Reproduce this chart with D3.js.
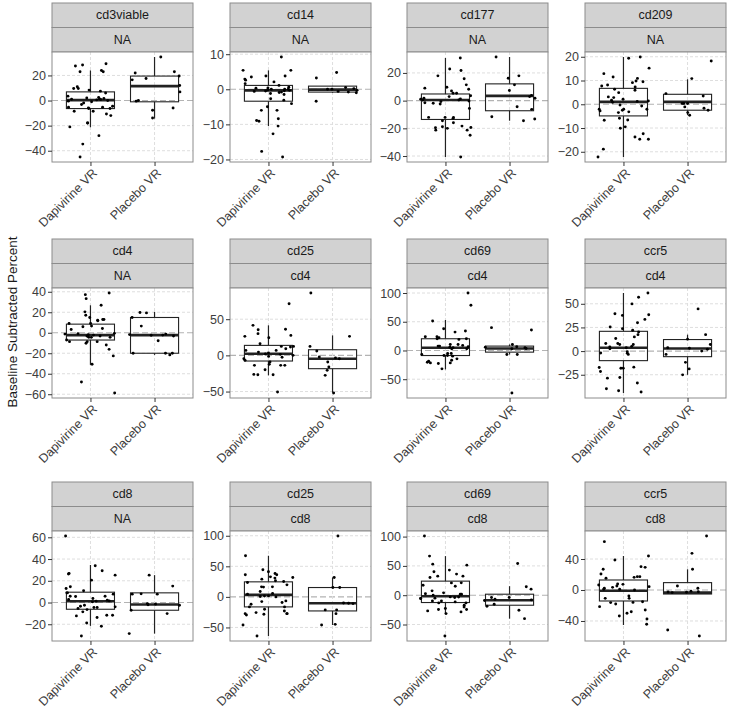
<!DOCTYPE html>
<html><head><meta charset="utf-8">
<script src="https://cdn.jsdelivr.net/npm/d3@7"></script>
<style>body{margin:0;background:#fff}svg{display:block}</style>
</head><body><svg id="c" width="729" height="710"></svg>
<script>
// ---------- data ----------
const groups = ["Dapivirine VR", "Placebo VR"];
const markers = ["cd3viable","cd14","cd177","cd209","cd4","cd25","cd69","ccr5","cd8","cd25","cd69","ccr5"];
const parents = ["NA","NA","NA","NA","NA","cd4","cd4","cd4","NA","cd8","cd8","cd8"];
const yTicks = [
  [-40,-20,0,20], [-20,-10,0,10], [-40,-20,0,20], [-20,-10,0,10,20],
  [-60,-40,-20,0,20,40], [-50,0,50], [-50,0,50,100], [-25,0,25,50],
  [-20,0,20,40,60], [-50,0,50,100], [-50,0,50,100], [-40,0,40]
];
// box stats: [q1, median, q3, lower whisker, upper whisker]
const boxDapivirine = [
  [-6.4,0.3,6.9,-21.3,24], [-3.4,-0.3,1.1,-10.5,5.4], [-13.6,0.5,4.8,-40.7,30.8], [-4.9,1.0,6.7,-22.2,19.9],
  [-7.1,-2.3,8.4,-31.3,26.8], [-7.8,2.3,13.8,-27.6,41.5], [-8.8,4.7,20.4,-33,53], [-10.1,3.5,20.9,-44.3,61.4],
  [-6.2,1.2,9.5,-21.5,34.5], [-16.4,3.3,24.6,-64,67.3], [-12.5,-1.7,24,-32.5,66.7], [-14.2,-0.9,12.9,-45.2,43.9]
];
const boxPlacebo = [
  [-1,11.5,19.5,-14.4,34.7], [-0.8,-0.1,0.9,-1.0,1.0], [-7.3,3.4,12.1,-14.5,31.5], [-2.5,1.0,4.2,-4.6,10.5],
  [-20,-2.3,14.9,-21.6,20.4], [-18.4,-4.6,7.8,-51.6,27.6], [-2.9,3.5,7.6,-7,10.5], [-5.9,2.8,12.2,-25.1,17.4],
  [-7.1,-1.8,8.9,-28.6,25.2], [-23,-10.4,15.3,-46,31.7], [-17.1,-8.6,1.7,-40,15.4], [-5.2,-3.4,9.5,-5.2,26.7]
];
// individual observations
const dap_cd3viable = [24,27.5,23,28.3,29.3,23,11,9.6,9.6,8.3,7.5,6,3.5,2,1.6,1.3,0.8,-0.5,0,-4.5,-3.2,-5.3,-6.4,-5.3,-6.4,-5.9,-8.5,-8.5,-10.7,-12,-17.9,-17.9,-21,-28,-34.7,-45,0.5,-1,2.5,-2,1];
const pla_cd3viable = [23,22,34.7,17.6,16.5,19.5,6.9,-5.9,-13.9,-7.7,0,-0.5,12];
const dap_cd14 = [9.2,5.4,3.5,5.4,3.8,3.8,2.6,2.9,2.1,1.6,1.1,-0.6,0,-0.8,-0.3,0,0,-2.7,-3.1,-4.1,-6,-6,-5,-8.4,-8.9,-9.1,-10.5,-12.7,-17.7,-19.3,-0.5,0.4,-1.2,-0.2,0.6,-1.5,-0.9,0.3,-0.4];
const pla_cd14 = [4.8,3.2,-3.4,0,-0.6,0.2,-0.3,0,-1.0,0.5,-0.8];
const dap_cd177 = [30.8,21.8,22.8,9.7,9,17.9,15.8,11.4,8.2,7,5.3,5.3,2.9,1.7,0.5,-1.5,-0.7,1,0.5,-5.6,-2.4,-1.9,-12.1,-12.8,-12.1,-12.1,-18.4,-19.4,-21.3,-16,-14.5,-20,-25,-19.6,-18.9,-21.3,-40.7,3.5,-0.3,1.2];
const pla_cd177 = [31.5,16.2,17.9,11.4,7.3,2.9,1.7,-6.3,-4.4,-11.6,-14.5,-13.3,3.8];
const dap_cd209 = [19.9,19.4,15.2,12.9,9.8,9.5,9.1,10.9,11.5,8.1,7.3,7.7,6.3,4.9,3.1,2.8,1.7,2.1,5.9,1.4,-0.3,-0.7,-2.1,-3.2,-2.8,-2.1,-2.1,-3.5,-2.5,-9.5,-10.1,-6.6,-5.9,-6.7,-14.7,-14.7,-12.4,-13.8,-18.9,-22.2,0.8,1.2];
const pla_cd209 = [18.2,10.8,4.5,3.5,-3.5,-2.5,-4.6,0.3,0.3,0.3,-1.7,-1.1];
const dap_cd4 = [38.8,37.2,33.3,26.8,20.4,17.1,14.9,12.3,11.6,12.9,12.9,9.0,9.0,4.2,5.8,6.5,3.2,-0.6,-3.2,-1.3,-4.5,-3.2,-4.5,-2.3,-3.2,-4.5,-8.7,-12,-7.1,-10.3,-8.7,-8.7,-16.2,-22.6,-30.7,-48.1,-58.8,-2.0,-1.0];
const pla_cd4 = [19.7,19.4,14.9,6.5,-7.8,-2.3,-1.3,-1.8,-3.2,-2.5,-20,-20,-21.6,-20];
const dap_cd25_cd4 = [71.4,41.5,36,35.5,26.3,27.6,30,24.4,12.4,16.1,12.4,11.5,9.2,6.9,3.2,1.4,0,2.0,6.9,-4.6,-1.4,-6.9,-9.2,-12.4,-13.8,-13.8,-13.8,-26.3,-26.7,-26.7,-19.8,-50.7,4.5,-2.5];
const pla_cd25_cd4 = [86.2,26.3,12.4,6,-9.2,-16.1,-20.7,-27.6,-52,-3.5,-2.3,-4.6];
const dap_cd69_cd4 = [100,78.8,51.3,33.8,32,37.9,23.9,22.2,23.9,20.4,19.3,7.6,10.5,7.6,4.7,6.4,8.8,2.9,-5.3,-7,-8.8,-9.9,-5.3,-8.8,-21.6,-21.6,-22.8,-16.9,-20.4,-18.7,-32,-14.6,10.5,5.5,3.0,20.4];
const pla_cd69_cd4 = [39.7,35.6,10.5,6.4,-7,-7,4.7,2.9,3.5,-74,5.5];
const dap_ccr5_cd4 = [61.4,56.9,49.9,37.7,39.4,38.4,33.5,25.5,22,23.7,30,17.4,13.3,15,20.2,8,7,8,-2.4,-2.0,-0.7,4.5,3.5,7,-3.5,-18.1,-18.1,-17.4,-17.0,-21.6,-27.9,-33.8,-28.6,-41.9,-39.8,-43.2,2.5,5.0];
const pla_ccr5_cd4 = [44.6,17.4,12.6,7,-3.5,-18.8,-25.1,-11.9,3.0,0.0,3.5,2.0];
const dap_cd8 = [61.2,33.8,26.8,26.2,25.2,20.6,29.2,14.5,12.9,8.9,5.8,5.5,5.8,8.9,7.7,10.8,3.7,1.5,0.6,2.8,1.2,2.2,-4.6,-2.5,-4,-3.4,-4.6,-6.5,-5.5,-11.7,-18.8,-11.7,-13.8,-12.3,-21.8,-8.6,-30.8];
const pla_cd8 = [25.2,15.1,7.7,7.7,8.0,-1.0,-1.5,-2.5,-2.0,-7.1,-10.2,-28.6];
const dap_cd25_cd8 = [67.3,44.3,41,36.1,38.3,36.1,32.8,31.7,29,30.7,25.2,26.3,19.7,16.4,23.5,16.4,16.0,8.8,1.6,4.4,0,1.5,5.5,0.5,-7.7,-12,-9.3,-6.6,-16.4,-23,-20.2,-27.4,-29.6,-27.4,-25.7,-27.4,-28.5,-16.4,-46,-64];
const pla_cd25_cd8 = [99.6,31.7,15.3,15.3,-27.4,-46,-44.9,-10.0,-11.0,-21.3,-21.3,-10.5];
const dap_cd69_cd8 = [101,66.7,51.3,53,40,42.8,32.5,32.5,36,30.2,21.1,17.1,21.0,15.4,7.4,1.7,0,1.5,4,2.5,-4,-5.7,-2.9,-5.0,-3.0,-5.5,-13.1,-9.7,-13.1,-11.4,-10.0,-24.5,-31.4,-17.1,-28.5,-24.5,-22.8,-20,-26.8,-69.6];
const pla_cd69_cd8 = [54.2,14.3,10.3,-4,-4,-15.4,-18.8,-25.7,-40,-8.0,-9.0,-7.0];
const dap_ccr5_cd8 = [62.4,43.9,38.7,30.1,29.2,26.7,15.1,16.3,20.6,17.2,17.2,7.3,5.2,6.5,7.7,4.3,0.9,3.4,1.0,2.2,0,-10.8,-7.7,-16.3,-10.8,-15.1,-21.5,-28,-25.8,-30.1,-33.5,-37.4,-44.3,-16.0,-18.1];
const pla_ccr5_cd8 = [69.7,47.3,26.7,5.2,2.2,-2.2,-2.5,-3.4,-3.0,-59.4,-51.6,-1.5];

const dapivirinePoints = [dap_cd3viable,dap_cd14,dap_cd177,dap_cd209,dap_cd4,dap_cd25_cd4,dap_cd69_cd4,dap_ccr5_cd4,dap_cd8,dap_cd25_cd8,dap_cd69_cd8,dap_ccr5_cd8];
const placeboPoints = [pla_cd3viable,pla_cd14,pla_cd177,pla_cd209,pla_cd4,pla_cd25_cd4,pla_cd69_cd4,pla_ccr5_cd4,pla_cd8,pla_cd25_cd8,pla_cd69_cd8,pla_ccr5_cd8];

// ---------- layout ----------
const panelLeft = [52, 230, 407, 585];
const stripTop = [3, 239, 482];
const panelW = 141, panelH = 110, stripH = 24.5;
const FONT = "'Liberation Sans', Arial, sans-serif";

const svg = d3.select("#c");
svg.append("rect").attr("width",729).attr("height",710).attr("fill","#fff");

// deterministic jitter generator (horizontal scatter only)
function lcg(seed){ let s = seed >>> 0; return () => { s = (Math.imul(s,1664525) + 1013904223) >>> 0; return s / 4294967296; }; }

markers.forEach((m, i) => {
  const col = i % 4, row = Math.floor(i / 4);
  const x0 = panelLeft[col], sTop = stripTop[row];
  const pTop = sTop + 2*stripH, pBot = pTop + panelH;
  const g = svg.append("g");

  // strips
  [m, parents[i]].forEach((lab, k) => {
    g.append("rect").attr("x", x0).attr("y", sTop + k*stripH).attr("width", panelW).attr("height", stripH)
      .attr("fill", "#d2d2d2").attr("stroke", "#8c8c8c").attr("stroke-width", 1);
    g.append("text").attr("x", x0 + panelW/2).attr("y", sTop + k*stripH + stripH/2)
      .attr("text-anchor","middle").attr("dominant-baseline","central")
      .attr("font-family", FONT).attr("font-size", 12.5).attr("fill", "#1a1a1a").text(lab);
  });

  const pts = [dapivirinePoints[i], placeboPoints[i]];
  const boxes = [boxDapivirine[i], boxPlacebo[i]];
  const allVals = pts.flat().concat(boxes.flat());
  const [lo, hi] = d3.extent(allVals);
  const pad = (hi - lo) * 0.05;
  const y = d3.scaleLinear().domain([lo - pad, hi + pad]).range([pBot, pTop]);
  const x = d3.scaleLinear().domain([0.4, 2.6]).range([x0, x0 + panelW]);

  // panel background
  g.append("rect").attr("x", x0).attr("y", pTop).attr("width", panelW).attr("height", panelH).attr("fill", "#fff");
  // grid
  yTicks[i].forEach(t => {
    g.append("line").attr("x1", x0).attr("x2", x0 + panelW).attr("y1", y(t)).attr("y2", y(t))
      .attr("stroke", t === 0 ? "#b3b3b3" : "#dedede").attr("stroke-width", t === 0 ? 1.1 : 1)
      .attr("stroke-dasharray", t === 0 ? "6,3" : "3,2");
  });
  [1, 2].forEach(c => {
    g.append("line").attr("x1", x(c)).attr("x2", x(c)).attr("y1", pTop).attr("y2", pBot)
      .attr("stroke", "#dedede").attr("stroke-dasharray", "3,2");
  });

  // boxplots
  boxes.forEach((b, k) => {
    const cx = x(k + 1), hw = (x(1.375) - x(1));
    const [q1, med, q3, wl, wh] = b;
    g.append("line").attr("x1", cx).attr("x2", cx).attr("y1", y(q3)).attr("y2", y(wh)).attr("stroke", "#222").attr("stroke-width", 1.2);
    g.append("line").attr("x1", cx).attr("x2", cx).attr("y1", y(q1)).attr("y2", y(wl)).attr("stroke", "#222").attr("stroke-width", 1.2);
    g.append("rect").attr("x", cx - hw).attr("y", y(q3)).attr("width", 2*hw).attr("height", Math.max(0.5, y(q1) - y(q3)))
      .attr("fill", "none").attr("stroke", "#222").attr("stroke-width", 1.1);
    g.append("line").attr("x1", cx - hw).attr("x2", cx + hw).attr("y1", y(med)).attr("y2", y(med))
      .attr("stroke", "#222").attr("stroke-width", 2.6);
  });

  // jittered points
  const rnd = lcg(1234 + i*97);
  pts.forEach((arr, k) => {
    g.selectAll(null).data(arr).enter().append("circle")
      .attr("cx", () => x(k + 1 + (rnd()*0.8 - 0.4)))
      .attr("cy", d => y(d)).attr("r", 1.45).attr("fill", "#000");
  });

  // panel border
  g.append("rect").attr("x", x0).attr("y", pTop).attr("width", panelW).attr("height", panelH)
    .attr("fill", "none").attr("stroke", "#8c8c8c").attr("stroke-width", 1);

  // y axis
  const ya = g.append("g").attr("transform", `translate(${x0},0)`)
    .call(d3.axisLeft(y).tickValues(yTicks[i]).tickSize(4).tickPadding(2));
  ya.select(".domain").remove();
  ya.selectAll(".tick line").attr("stroke", "#333");
  ya.selectAll(".tick text").attr("font-family", FONT).attr("font-size", 12.5).attr("fill", "#3d3d3d");

  // x axis
  const xa = g.append("g").attr("transform", `translate(0,${pBot})`)
    .call(d3.axisBottom(x).tickValues([1, 2]).tickSize(4).tickFormat(d => groups[d - 1]));
  xa.select(".domain").remove();
  xa.selectAll(".tick line").attr("stroke", "#333");
  xa.selectAll(".tick text").attr("font-family", FONT).attr("font-size", 12.5).attr("fill", "#3d3d3d")
    .attr("text-anchor", "end").attr("dy", null).attr("y", null)
    .attr("transform", "translate(4,9) rotate(-45)")
    .attr("dominant-baseline", "central");
});

// y axis title
svg.append("text").attr("transform", "translate(12,322) rotate(-90)")
  .attr("text-anchor", "middle").attr("dominant-baseline", "central")
  .attr("font-family", FONT).attr("font-size", 13.5).attr("fill", "#1a1a1a")
  .text("Baseline Subtracted Percent");
</script></body></html>
